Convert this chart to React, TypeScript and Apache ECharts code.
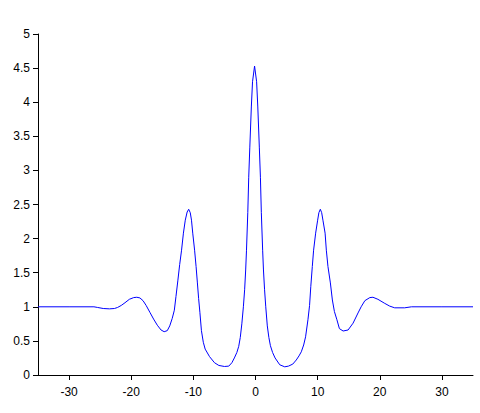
import React, { useEffect, useRef } from "react";
import * as echarts from "echarts";

const xValues: number[] = [
  -35, -30, -26, -25.4, -24.5, -23.5, -22.7, -22.2, -21.6, -21.0, -20.3, -19.6, -19.1, -18.6, -18.1,
  -17.6, -17.0, -16.4, -15.8, -15.2, -14.7, -14.2, -13.8, -13.4, -13.06, -12.8, -12.5, -12.2, -11.9,
  -11.6, -11.3, -11.0, -10.75, -10.5, -10.3, -10.1, -9.8, -9.56, -9.35, -9.15, -8.95, -8.7, -8.4, -8.1,
  -7.4, -6.6, -5.9, -5.0, -4.3, -3.8, -3.4, -3.0, -2.7, -2.45, -2.2, -1.95, -1.75, -1.58, -1.45, -1.24,
  -1.09, -0.92, -0.67, -0.48, -0.15, 0.18, 0.37, 0.62, 0.79, 0.94, 1.15, 1.28, 1.46, 1.65, 1.9, 2.15,
  2.4, 2.75, 3.15, 3.9, 4.7, 5.3, 6.0, 6.56, 7.0, 7.37, 7.75, 8.06, 8.44, 8.7, 8.9, 9.14, 9.35, 9.68,
  10.0, 10.2, 10.43, 10.65, 10.85, 11.2, 11.4, 11.66, 12.05, 12.37, 12.7, 13.1, 13.5, 14.1, 14.9, 15.7,
  16.5, 17.0, 17.6, 18.4, 18.9, 19.7, 20.8, 21.6, 22.4, 24.0, 25.1, 30, 35,
];

const yValues: number[] = [
  1.0, 1.0, 1.0, 0.99, 0.975, 0.97, 0.975, 0.99, 1.02, 1.06, 1.11, 1.135, 1.14, 1.13, 1.09,
  1.02, 0.92, 0.82, 0.73, 0.66, 0.635, 0.65, 0.72, 0.83, 0.95, 1.15, 1.38, 1.62, 1.83,
  2.08, 2.27, 2.39, 2.43, 2.38, 2.27, 2.08, 1.83, 1.59, 1.35, 1.12, 0.92, 0.65, 0.48, 0.38,
  0.27, 0.18, 0.14, 0.125, 0.13, 0.18, 0.25, 0.33, 0.42, 0.55, 0.75, 1.0, 1.25, 1.54, 1.83, 2.38,
  2.9, 3.33, 3.93, 4.3, 4.53, 4.3, 3.93, 3.33, 2.9, 2.38, 1.83, 1.54, 1.25, 1.0, 0.72, 0.55,
  0.43, 0.33, 0.25, 0.15, 0.12, 0.13, 0.16, 0.22, 0.28, 0.34, 0.44, 0.56, 0.81, 1.02, 1.3, 1.59, 1.83, 2.08,
  2.27, 2.38, 2.43, 2.38, 2.27, 2.08, 1.83, 1.59, 1.35, 1.1, 0.93, 0.81, 0.68, 0.645, 0.66, 0.76,
  0.91, 1.0, 1.09, 1.135, 1.14, 1.11, 1.05, 1.01, 0.985, 0.985, 1.0, 1.0, 1.0,
];

const xTickValues: number[] = [-30, -20, -10, 0, 10, 20, 30];

export default function App() {
  const ref = useRef<HTMLDivElement>(null);
  useEffect(() => {
    if (!ref.current) return;
    const chart = echarts.init(ref.current, null, { renderer: "svg" });
    const data = xValues.map((x, i) => [x, yValues[i]]);
    const axisText = { color: "#000", fontFamily: "Arial, 'Liberation Sans', sans-serif", fontSize: 12 };
    chart.setOption({
      animation: false,
      backgroundColor: "#fff",
      grid: { left: 38, right: 7, top: 34, bottom: 38 },
      xAxis: {
        type: "value",
        min: -35,
        max: 35,
        axisLine: { onZero: false, lineStyle: { color: "#000", width: 1 } },
        axisTick: { show: true, length: 5, customValues: xTickValues, lineStyle: { color: "#000" } },
        axisLabel: { ...axisText, margin: 11, customValues: xTickValues },
        splitLine: { show: false },
      },
      yAxis: {
        type: "value",
        min: 0,
        max: 5,
        interval: 0.5,
        axisLine: { show: true, onZero: false, lineStyle: { color: "#000", width: 1 } },
        axisTick: { show: true, length: 5, lineStyle: { color: "#000" } },
        axisLabel: { ...axisText, margin: 8 },
        splitLine: { show: false },
      },
      series: [
        {
          type: "line",
          data,
          showSymbol: false,
          symbol: "none",
          lineStyle: { color: "#0000ff", width: 1 },
        },
      ],
    });
    return () => chart.dispose();
  }, []);
  return <div ref={ref} style={{ width: 480, height: 413, position: "absolute", left: 0, top: 0 }} />;
}
